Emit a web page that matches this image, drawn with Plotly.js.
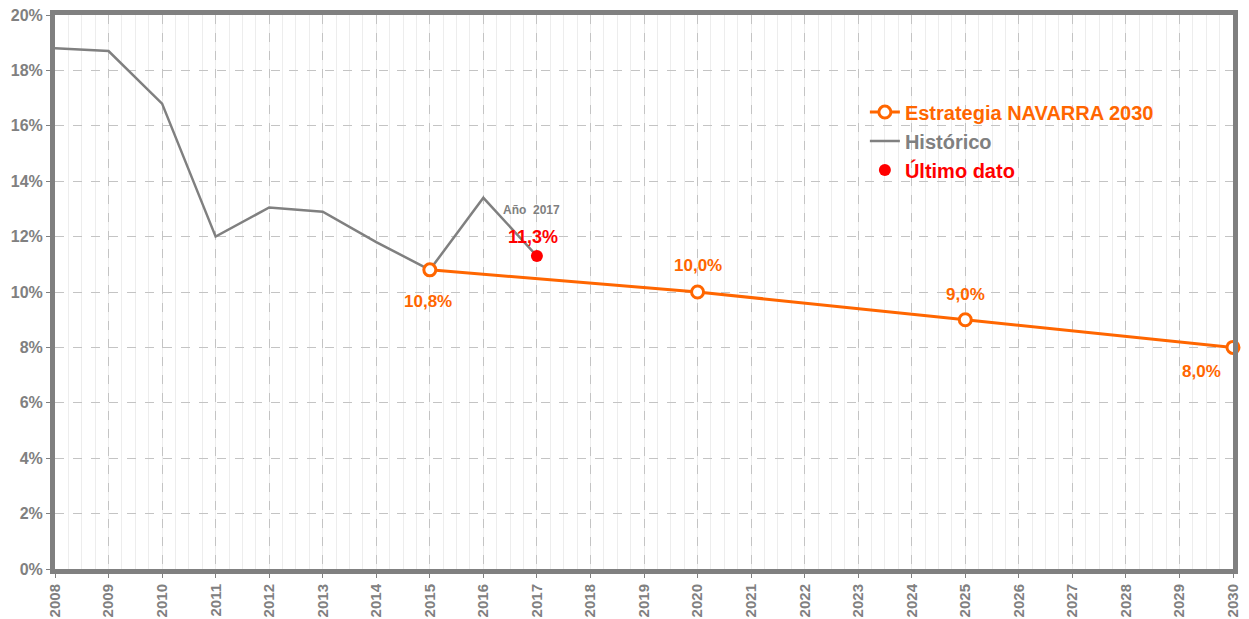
<!DOCTYPE html>
<html><head><meta charset="utf-8">
<script src="https://cdn.plot.ly/plotly-3.0.1.min.js"></script>
<style>html,body{margin:0;padding:0;background:#fff}#c{width:1249px;height:619px}</style>
</head><body><div id="c"></div>
<script>
const histYears = [2008,2009,2010,2011,2012,2013,2014,2015,2016,2017];
const histValues = [18.8,18.7,16.8,12.0,13.05,12.9,11.8,10.8,13.4,11.3];
const stratYears = [2015,2020,2025,2030];
const stratValues = [10.8,10.0,9.0,8.0];
const stratLabels = ['10,8%','10,0%','9,0%','8,0%'];
const lastYear = [2017];
const lastValue = [11.3];
const lastLabel = '11,3%';
const lastYearLabel = 'Año  2017';
const xTicks = [];
for (let y = 2008; y <= 2030; y++) xTicks.push(y);
const yTicks = [0,2,4,6,8,10,12,14,16,18,20];

const ORANGE = '#FF6600', GRAY = '#808080', RED = '#FF0000';
const FONT = 'Liberation Sans, Arial, sans-serif';

const traces = [
  {x: histYears, y: histValues, type: 'scatter', mode: 'lines', name: '<b>Histórico</b>',
   line: {color: GRAY, width: 2.5}, legendrank: 2, hoverinfo: 'skip'},
  {x: stratYears, y: stratValues, type: 'scatter', mode: 'lines+markers', name: '<b>Estrategia NAVARRA 2030</b>',
   line: {color: ORANGE, width: 3},
   marker: {symbol: 'circle', size: 12, color: '#FFFFFF', line: {color: ORANGE, width: 3}},
   legendrank: 1, cliponaxis: false, hoverinfo: 'skip'},
  {x: lastYear, y: lastValue, type: 'scatter', mode: 'markers', name: '<b>Último dato</b>',
   marker: {symbol: 'circle', size: 12, color: RED}, legendrank: 3, hoverinfo: 'skip'}
];

const shifts = [[-2,-32],[0,27],[0,25],[-32,-24]];
const annotations = stratYears.map((yr, i) => ({
  x: yr, y: stratValues[i], xref: 'x', yref: 'y', text: '<b>' + stratLabels[i] + '</b>',
  showarrow: false, xshift: shifts[i][0], yshift: shifts[i][1],
  font: {family: FONT, size: 17, color: ORANGE}
}));
annotations.push({x: lastYear[0], y: lastValue[0], xref: 'x', yref: 'y', text: '<b>' + lastLabel + '</b>',
  showarrow: false, xshift: -4, yshift: 19, font: {family: FONT, size: 18, color: RED}});
annotations.push({x: lastYear[0], y: lastValue[0], xref: 'x', yref: 'y', text: '<b>' + lastYearLabel + '</b>',
  showarrow: false, xshift: -5, yshift: 46, font: {family: FONT, size: 12, color: GRAY}});

const layout = {
  width: 1249, height: 619,
  margin: {l: 55, r: 16, t: 15, b: 50, pad: 0},
  paper_bgcolor: '#FFFFFF', plot_bgcolor: '#FFFFFF',
  font: {family: FONT, color: GRAY},
  showlegend: true,
  legend: {x: 0.6875, y: 0.86, xanchor: 'left', yanchor: 'top', bgcolor: 'rgba(0,0,0,0)',
           font: {family: FONT, size: 20, color: GRAY}, tracegroupgap: 0, itemwidth: 30},
  xaxis: {range: [2008, 2030], tickmode: 'array', tickvals: xTicks, ticktext: xTicks.map(v => '<b>' + v + '</b>'),
          tickangle: -90, tickfont: {family: FONT, size: 15, color: GRAY},
          showgrid: true, gridcolor: '#C4C4C4', griddash: 'dash', gridwidth: 1,
          minor: {dtick: 0.25, showgrid: true, gridcolor: '#EDEDED', gridwidth: 1, griddash: 'solid'},
          showline: true, linecolor: GRAY, linewidth: 5, mirror: true,
          ticks: 'outside', ticklen: 4, tickcolor: GRAY, zeroline: false, fixedrange: true},
  yaxis: {range: [0, 20], tickmode: 'array', tickvals: yTicks, ticktext: yTicks.map(v => '<b>' + v + '%</b>'),
          tickfont: {family: FONT, size: 16, color: GRAY},
          showgrid: true, gridcolor: '#C4C4C4', griddash: 'dash', gridwidth: 1,
          showline: true, linecolor: GRAY, linewidth: 5, mirror: true,
          ticks: 'outside', ticklen: 4, tickcolor: GRAY, zeroline: false, fixedrange: true},
  annotations: annotations
};

Plotly.newPlot('c', traces, layout, {displayModeBar: false, staticPlot: true}).then(() => {
  const cols = {'Estrategia NAVARRA 2030': ORANGE, 'Histórico': GRAY, 'Último dato': RED};
  document.querySelectorAll('.legendtext').forEach(t => {
    const c = cols[t.textContent.trim()];
    if (c) t.style.fill = c;
  });
});
</script></body></html>
